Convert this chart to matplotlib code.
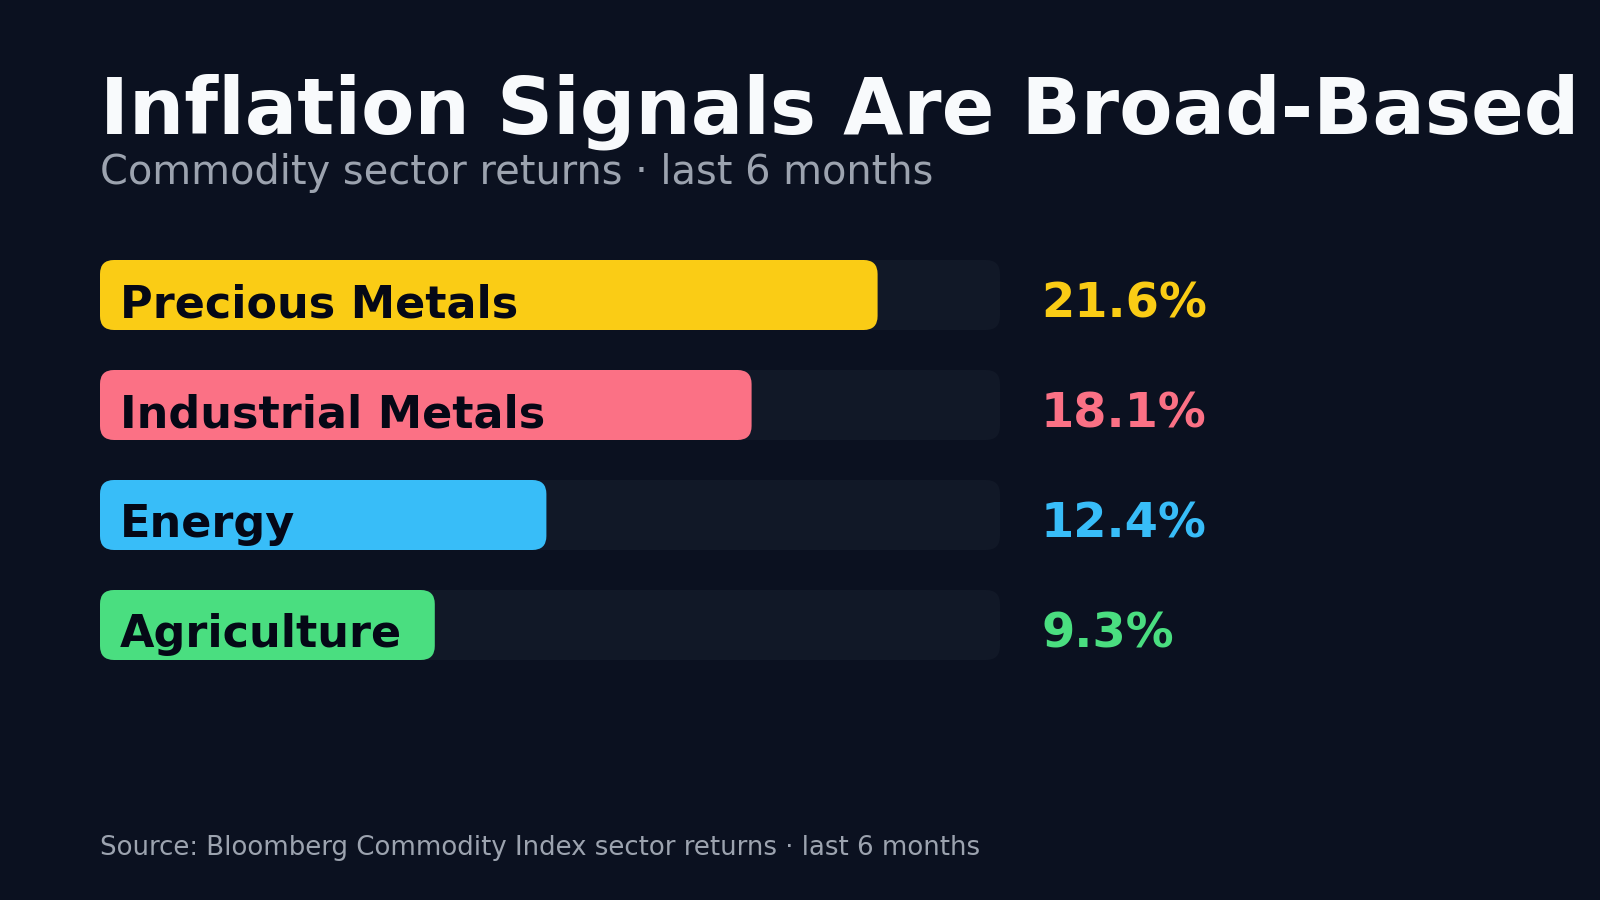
import matplotlib.pyplot as plt
from matplotlib.patches import FancyBboxPatch

FONT = "DejaVu Sans"

# data
sectors = ["Precious Metals", "Industrial Metals", "Energy", "Agriculture"]
returns = [21.6, 18.1, 12.4, 9.3]
bar_colors = ["#facc15", "#fb7185", "#38bdf8", "#4ade80"]
scale_max = 25

bg = "#0b1120"
track = "#111827"

fig = plt.figure(figsize=(16, 9), dpi=100)
fig.patch.set_facecolor(bg)

# bars area: 100px..1000px wide, rows 110px apart
ax = fig.add_axes([100 / 1600, 1 - 680 / 900, 900 / 1600, 440 / 900])
ax.set_facecolor(bg)
ax.set_xlim(0, scale_max)
ax.set_ylim(3.5, -0.5)
ax.axis("off")

px_x = 900 / scale_max   # pixels per x unit
px_y = 110               # pixels per y unit
radius = 14 / px_x
aspect = px_x / px_y
bar_h = 70 / px_y

for i in range(len(sectors)):
    # background track
    ax.add_patch(FancyBboxPatch((0, i - bar_h / 2), scale_max, bar_h,
                                boxstyle="round,pad=0,rounding_size=%f" % radius,
                                mutation_aspect=aspect, fc=track, ec="none"))
    # value bar
    ax.add_patch(FancyBboxPatch((0, i - bar_h / 2), returns[i], bar_h,
                                boxstyle="round,pad=0,rounding_size=%f" % radius,
                                mutation_aspect=aspect, fc=bar_colors[i], ec="none"))
    ax.text(20 / px_x, i + 22 / px_y, sectors[i], fontsize=32, fontweight="bold",
            family=FONT, color="#050816", va="baseline", ha="left")
    ax.text(scale_max + 41 / px_x, i + 22 / px_y, "%.1f%%" % returns[i],
            fontsize=34.5, fontweight="bold", family=FONT, color=bar_colors[i],
            va="baseline", ha="left", clip_on=False)

# titles
fig.text(100 / 1600, 1 - 134 / 900, "Inflation Signals Are Broad-Based",
         fontsize=56, fontweight="bold", family=FONT, color="#f8fafc", va="baseline")
fig.text(100 / 1600, 1 - 184 / 900, "Commodity sector returns · last 6 months",
         fontsize=28.7, family=FONT, color="#9ca3af", va="baseline")
fig.text(100 / 1600, 1 - 855 / 900,
         "Source: Bloomberg Commodity Index sector returns · last 6 months",
         fontsize=18.7, family=FONT, color="#9ca3af", va="baseline")

fig.savefig("out.png", facecolor=bg)
